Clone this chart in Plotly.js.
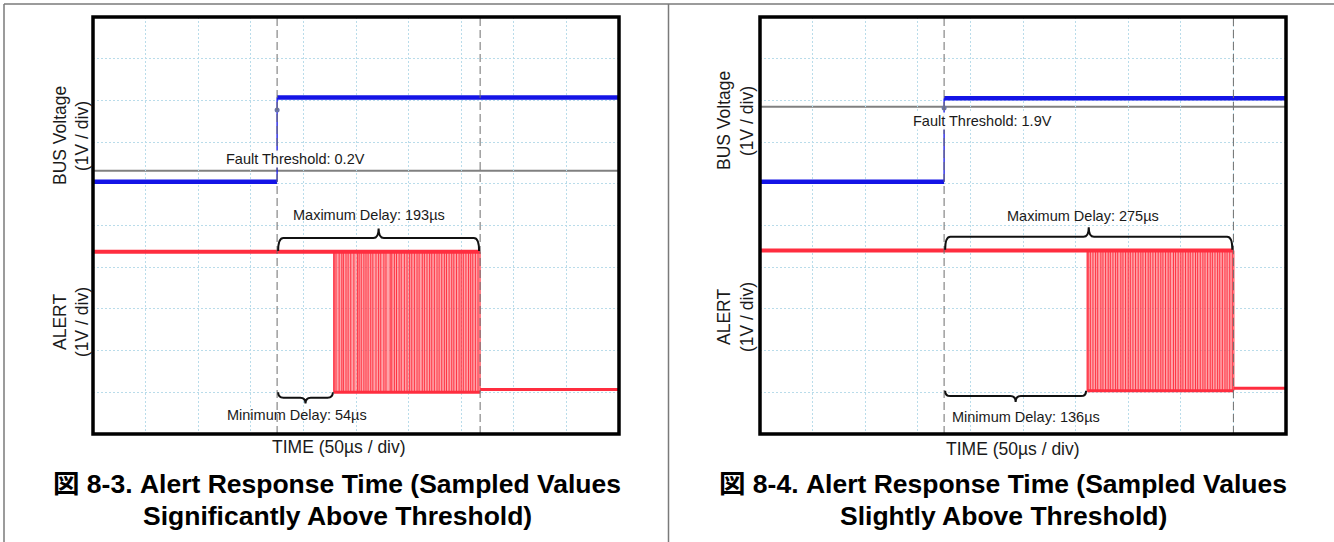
<!DOCTYPE html>
<html>
<head>
<meta charset="utf-8">
<script src="https://cdn.plot.ly/plotly-3.0.1.min.js"></script>
<style>html,body{margin:0;padding:0;background:#fff;}#chart{width:1334px;height:542px;}</style>
</head>
<body>
<div id="chart"></div>
<script>
// ---------- data (time in µs, 50 µs/div; voltage in V, 1 V/div) ----------
const timeRange = [0, 500];
const divRange = [0, 10];
const triggerUs = [175, 175];
const maxDelayUs = [193, 275];
const minDelayUs = [54, 136];
const busOffsetDiv = [6.05, 6.05];
const busLowV = [0, 0];
const busHighV = [2.02, 2.0];
const thresholdDrawnV = [0.26, 1.8];
const thresholdLabels = ["Fault Threshold: 0.2V", "Fault Threshold: 1.9V"];
const maxLabels = ["Maximum Delay: 193\u00b5s", "Maximum Delay: 275\u00b5s"];
const minLabels = ["Minimum Delay: 54\u00b5s", "Minimum Delay: 136\u00b5s"];
const alertOffsetDiv = [1.0, 1.04];
const alertHighV = [3.37, 3.36];
const alertTailV = [0.07, 0.06];
const markerV = [1.72, 1.77];
const pulsesLeftUs = [229, 231, 234, 236.5, 238, 240.5, 242.5, 245, 248, 251.5, 253, 255, 257.5, 259.5, 261.5, 264, 266, 269, 271.5, 273.5, 276.5, 278.5, 282.5, 284, 286.5, 288.5, 291, 293, 296, 298.5, 301, 303, 305.5, 308, 310, 313, 315, 317.5, 320, 322, 324.5, 327, 329, 331.5, 334, 336, 338.5, 341, 343, 345.5, 348, 350, 352, 354.5, 357, 359, 361, 363.5, 366, 368];
const pulsesRightUs = [312, 314, 316.5, 319, 321, 324, 326, 328.5, 331, 333, 335.5, 338, 340, 343, 345, 347.5, 350, 352, 354.5, 357, 359.5, 362, 364, 366.5, 369, 371, 373.5, 376, 378.5, 381, 383, 385.5, 388, 390, 393, 395, 397.5, 400, 402, 404.5, 407, 409, 411.5, 414, 416, 418.5, 421, 423, 425.5, 428, 430, 432.5, 435, 437, 439.5, 442, 444, 446.5, 449, 450.5];
const pulses = [pulsesLeftUs, pulsesRightUs];
const captions = [
  ["\u56f3 8-3. Alert Response Time (Sampled Values", "Significantly Above Threshold)"],
  ["\u56f3 8-4. Alert Response Time (Sampled Values", "Slightly Above Threshold)"]
];

// ---------- layout helpers (pixels -> paper) ----------
const W = 1334, H = 542;
const px = v => v / W;
const py = v => 1 - v / H;
const FONT = "Liberation Sans, Arial, Noto Sans CJK JP, sans-serif";
const BLUE = "#1414e6", RED = "#ff2d3f";

const panelPx = [[93, 619], [760, 1286]];
const plotTop = 17, plotBot = 434;

const traces = [];
const shapes = [];
const annotations = [];

for (let i = 0; i < 2; i++) {
  const xa = i === 0 ? "x" : "x2", ya = i === 0 ? "y" : "y2";
  const t0 = triggerUs[i], tMin = t0 + minDelayUs[i], tMax = t0 + maxDelayUs[i];
  const aLow = alertOffsetDiv[i], aHigh = alertOffsetDiv[i] + alertHighV[i];
  const bLow = busOffsetDiv[i] + busLowV[i], bHigh = busOffsetDiv[i] + busHighV[i];

  // burst envelope
  traces.push({x: [tMin, tMax, tMax, tMin, tMin], y: [aLow, aLow, aHigh, aHigh, aLow], xaxis: xa, yaxis: ya,
    mode: "lines", fill: "toself", fillcolor: "rgba(255,105,115,0.62)", line: {width: 0}, hoverinfo: "skip"});
  // pulse edges
  const px_ = [], py_ = [];
  pulses[i].forEach(t => { px_.push(t, t, null); py_.push(aLow, aHigh, null); });
  traces.push({x: px_, y: py_, xaxis: xa, yaxis: ya, mode: "lines", line: {color: "rgba(255,40,55,0.9)", width: 1}, hoverinfo: "skip"});
  // alert levels
  traces.push({x: [timeRange[0], tMax], y: [aHigh, aHigh], xaxis: xa, yaxis: ya, mode: "lines", line: {color: RED, width: 4}});
  traces.push({x: [tMin, tMax], y: [aLow, aLow], xaxis: xa, yaxis: ya, mode: "lines", line: {color: RED, width: 3}});
  traces.push({x: [tMin, tMin], y: [aLow, aHigh], xaxis: xa, yaxis: ya, mode: "lines", line: {color: RED, width: 1.2}});
  traces.push({x: [tMax, timeRange[1]], y: [aLow + alertTailV[i], aLow + alertTailV[i]], xaxis: xa, yaxis: ya, mode: "lines", line: {color: RED, width: 3}});
  // bus voltage
  traces.push({x: [timeRange[0], t0], y: [bLow, bLow], xaxis: xa, yaxis: ya, mode: "lines", line: {color: BLUE, width: 4.5}});
  traces.push({x: [t0, t0], y: [bLow, bHigh], xaxis: xa, yaxis: ya, mode: "lines", line: {color: BLUE, width: 1.3}});
  traces.push({x: [t0, timeRange[1]], y: [bHigh, bHigh], xaxis: xa, yaxis: ya, mode: "lines", line: {color: BLUE, width: 4.5}});
  traces.push({x: [t0], y: [busOffsetDiv[i] + markerV[i]], xaxis: xa, yaxis: ya, mode: "markers", marker: {color: "#6a74a8", size: 5}});

  const xr = i === 0 ? "x" : "x2", yr = i === 0 ? "y" : "y2";
  // threshold
  const thY = busOffsetDiv[i] + thresholdDrawnV[i];
  shapes.push({type: "line", xref: xr + " domain", yref: yr, x0: 0, x1: 1, y0: thY, y1: thY, line: {color: "#808080", width: 2}, layer: "below"});
  // dashed markers
  [t0, tMax].forEach(t => shapes.push({type: "line", xref: xr, yref: yr + " domain", x0: t, x1: t, y0: 0, y1: 1,
    line: {color: "#6e6e6e", width: 1, dash: "8px,4px"}, layer: "above"}));
  // braces
  const brace = (xa0, xa1, ye, yh, yt) => {
    const r = 5, xm = (xa0 + xa1) / 2;
    return `M ${xa0},${ye} Q ${xa0},${yh} ${xa0 + r},${yh} L ${xm - r},${yh} Q ${xm},${yh} ${xm},${yt} Q ${xm},${yh} ${xm + r},${yh} L ${xa1 - r},${yh} Q ${xa1},${yh} ${xa1},${ye}`;
  };
  shapes.push({type: "path", xref: xr, yref: yr, path: brace(t0 + 1, tMax - 1, aHigh + 0.02, aHigh + 0.33, aHigh + 0.56), line: {color: "#111", width: 2}});
  shapes.push({type: "path", xref: xr, yref: yr, path: brace(t0 + 1, tMin - 1, aLow - 0.0, aLow - 0.13, aLow - 0.27), line: {color: "#111", width: 2}});
  // frame
  shapes.push({type: "rect", xref: xr + " domain", yref: yr + " domain", x0: 0, x1: 1, y0: 0, y1: 1, line: {color: "#000", width: 3.5}});
}

// table borders
shapes.push({type: "line", xref: "paper", yref: "paper", x0: px(4), x1: px(1334), y0: py(4), y1: py(4), line: {color: "#7a7a7a", width: 1.5}});
shapes.push({type: "line", xref: "paper", yref: "paper", x0: px(4), x1: px(4), y0: py(4), y1: py(542), line: {color: "#7a7a7a", width: 1.5}});
shapes.push({type: "line", xref: "paper", yref: "paper", x0: px(668.5), x1: px(668.5), y0: py(4), y1: py(542), line: {color: "#7a7a7a", width: 1.5}});

// text
const txt = (text, x, y, size, extra) => Object.assign({text: text, xref: "paper", yref: "paper", x: px(x), y: py(y),
  xanchor: "center", yanchor: "middle", showarrow: false, font: {family: FONT, size: size, color: "#1a1a1a"}}, extra || {});
const textPos = [
  {bus: [60, 82, 136], alert: [60, 82, 322], time: [339, 447], th: [295, 159], mx: [369, 215], mn: [297, 415], cap: [337, 484, 516]},
  {bus: [724, 747, 121], alert: [724, 747, 317], time: [1013, 449], th: [982, 121], mx: [1083, 216], mn: [1026, 417], cap: [1003, 484, 516]}
];
for (let i = 0; i < 2; i++) {
  const p = textPos[i];
  annotations.push(txt("BUS Voltage", p.bus[0], p.bus[2], 17.5, {textangle: -90}));
  annotations.push(txt("(1V / div)", p.bus[1], p.bus[2], 17.5, {textangle: -90}));
  annotations.push(txt("ALERT", p.alert[0], p.alert[2], 17.5, {textangle: -90}));
  annotations.push(txt("(1V / div)", p.alert[1], p.alert[2], 17.5, {textangle: -90}));
  annotations.push(txt("TIME (50\u00b5s / div)", p.time[0], p.time[1], 17.5));
  annotations.push(txt(thresholdLabels[i], p.th[0], p.th[1], 14.5, {bgcolor: "rgba(255,255,255,0.95)", borderpad: 0}));
  annotations.push(txt(maxLabels[i], p.mx[0], p.mx[1], 14.5));
  annotations.push(txt(minLabels[i], p.mn[0], p.mn[1], 14.5));
  annotations.push(txt("<b>" + captions[i][0] + "</b>", p.cap[0], p.cap[1], 26.5, {font: {family: FONT, size: 26.5, color: "#000"}}));
  annotations.push(txt("<b>" + captions[i][1] + "</b>", p.cap[0], p.cap[2], 26.5, {font: {family: FONT, size: 26.5, color: "#000"}}));
}

const axX = dom => ({domain: dom, range: timeRange, dtick: 50, tick0: 0, showgrid: true, gridcolor: "#b9dcea", griddash: "2px,2px", gridwidth: 1,
  zeroline: false, showticklabels: false, ticks: "", showline: false, fixedrange: true});
const axY = (anchor) => ({domain: [py(plotBot), py(plotTop)], range: divRange, dtick: 1, tick0: 0, showgrid: true, gridcolor: "#b9dcea", griddash: "2px,2px",
  gridwidth: 1, zeroline: false, showticklabels: false, ticks: "", showline: false, anchor: anchor, fixedrange: true});

const layout = {
  width: W, height: H, margin: {l: 0, r: 0, t: 0, b: 0}, paper_bgcolor: "#fff", plot_bgcolor: "#fff", showlegend: false,
  xaxis: Object.assign(axX([px(panelPx[0][0]), px(panelPx[0][1])]), {anchor: "y"}),
  yaxis: axY("x"),
  xaxis2: Object.assign(axX([px(panelPx[1][0]), px(panelPx[1][1])]), {anchor: "y2"}),
  yaxis2: axY("x2"),
  shapes: shapes, annotations: annotations
};

Plotly.newPlot("chart", traces, layout, {staticPlot: true, displayModeBar: false});
</script>
</body>
</html>
